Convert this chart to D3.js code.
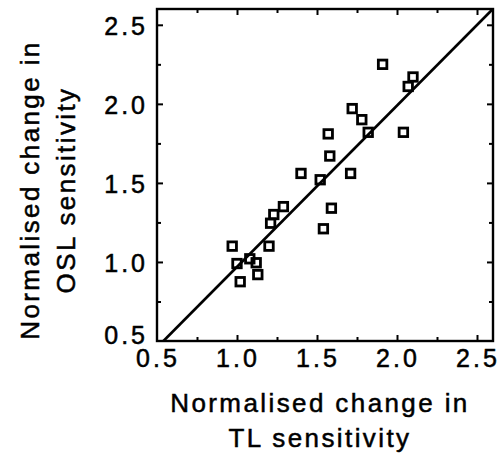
<!DOCTYPE html>
<html>
<head>
<meta charset="utf-8">
<script src="https://cdn.jsdelivr.net/npm/d3@7"></script>
<style>
  html, body { margin: 0; padding: 0; background: #fff; }
  svg text { font-family: "Liberation Sans", Arial, Helvetica, sans-serif; fill: #000; stroke: #000; stroke-width: 0.5px; }
</style>
</head>
<body>
<svg id="chart" width="502" height="463"></svg>
<script>
// Normalised change in TL sensitivity (x) vs OSL sensitivity (y)
const tlChange  = [1.91, 2.10, 2.07, 1.72, 1.78, 1.82, 2.04, 1.57, 1.58, 1.71, 1.40, 1.52,
                   1.59, 1.54, 1.29, 1.23, 1.21, 1.20, 0.97, 1.08, 1.00, 1.12, 1.13, 1.02];
const oslChange = [2.25, 2.17, 2.11, 1.97, 1.90, 1.82, 1.82, 1.81, 1.67, 1.56, 1.56, 1.52,
                   1.34, 1.21, 1.35, 1.30, 1.245, 1.10, 1.10, 1.02, 0.99, 0.995, 0.92, 0.875];

// Regression line: OSL = slope * TL + intercept
const fitSlope = 1.02;
const fitIntercept = -0.051;

const majorTicks = [0.5, 1.0, 1.5, 2.0, 2.5];
const minorTicks = [0.75, 1.25, 1.75, 2.25];
const tickLabels = ["0.5", "1.0", "1.5", "2.0", "2.5"];

const xTitle = ["Normalised change in", "TL sensitivity"];
const yTitle = ["Normalised change in", "OSL sensitivity"];

const domain = [0.5, 2.6];
const plotLeft = 157, plotRight = 493, plotTop = 9, plotBottom = 341;

const svg = d3.select("#chart");
const x = d3.scaleLinear().domain(domain).range([plotLeft, plotRight]);
const y = d3.scaleLinear().domain(domain).range([plotBottom, plotTop]);

const frame = svg.append("g");

// Inward ticks on all four sides
function tickAxis(axisFn, scale, values, size, transform) {
  const g = frame.append("g")
    .attr("transform", transform)
    .call(axisFn(scale).tickValues(values).tickSize(size).tickFormat(""));
  g.select(".domain").remove();
  g.selectAll(".tick line").attr("stroke", "#000").attr("stroke-width", 2);
  return g;
}
const majorLen = -6, minorLen = -4;
tickAxis(d3.axisBottom, x, majorTicks.slice(1), majorLen, `translate(0,${plotBottom})`);
tickAxis(d3.axisBottom, x, minorTicks, minorLen, `translate(0,${plotBottom})`);
tickAxis(d3.axisTop, x, majorTicks.slice(1), majorLen, `translate(0,${plotTop})`);
tickAxis(d3.axisTop, x, minorTicks, minorLen, `translate(0,${plotTop})`);
tickAxis(d3.axisLeft, y, majorTicks.slice(1), majorLen, `translate(${plotLeft},0)`);
tickAxis(d3.axisLeft, y, minorTicks, minorLen, `translate(${plotLeft},0)`);
tickAxis(d3.axisRight, y, majorTicks.slice(1), majorLen, `translate(${plotRight},0)`);
tickAxis(d3.axisRight, y, minorTicks, minorLen, `translate(${plotRight},0)`);

// Frame
frame.append("rect")
  .attr("x", plotLeft).attr("y", plotTop)
  .attr("width", plotRight - plotLeft).attr("height", plotBottom - plotTop)
  .attr("fill", "none").attr("stroke", "#000").attr("stroke-width", 2.4);

// Tick labels
const labelFont = 25;
svg.append("g").selectAll("text")
  .data(majorTicks)
  .join("text")
  .attr("x", d => x(d) + 1)
  .attr("y", 367)
  .attr("text-anchor", "middle")
  .attr("font-size", labelFont)
  .attr("letter-spacing", 3)
  .text((d, i) => tickLabels[i]);

svg.append("g").selectAll("text")
  .data(majorTicks)
  .join("text")
  .attr("x", plotLeft - 9)
  .attr("y", d => y(d) + (d === 0.5 ? -6 : 1))
  .attr("dy", "0.36em")
  .attr("text-anchor", "end")
  .attr("font-size", labelFont)
  .attr("letter-spacing", 3)
  .text((d, i) => tickLabels[i]);

// Regression line, clipped to the plot box
const x0 = Math.max(domain[0], (domain[0] - fitIntercept) / fitSlope);
const x1 = Math.min(domain[1], (domain[1] - fitIntercept) / fitSlope);
svg.append("line")
  .attr("x1", x(x0)).attr("y1", y(fitSlope * x0 + fitIntercept))
  .attr("x2", x(x1)).attr("y2", y(fitSlope * x1 + fitIntercept))
  .attr("stroke", "#000").attr("stroke-width", 2.6);

// Data points as open squares
const side = 8.5;
svg.append("g").selectAll("rect")
  .data(tlChange.map((v, i) => [v, oslChange[i]]))
  .join("rect")
  .attr("x", d => x(d[0]) - side / 2)
  .attr("y", d => y(d[1]) - side / 2)
  .attr("width", side).attr("height", side)
  .attr("fill", "none").attr("stroke", "#000").attr("stroke-width", 2.8);

// Axis titles
const titleFont = 26;
svg.append("g").selectAll("text")
  .data(xTitle)
  .join("text")
  .attr("x", 320)
  .attr("y", (d, i) => 412 + i * 35)
  .attr("text-anchor", "middle")
  .attr("font-size", titleFont)
  .attr("letter-spacing", 2.4)
  .text(d => d);

svg.append("g")
  .attr("transform", "translate(0,190) rotate(-90)")
  .selectAll("text")
  .data(yTitle)
  .join("text")
  .attr("x", 0)
  .attr("y", (d, i) => 39 + i * 36)
  .attr("text-anchor", "middle")
  .attr("font-size", titleFont)
  .attr("letter-spacing", 2.4)
  .text(d => d);
</script>
</body>
</html>
